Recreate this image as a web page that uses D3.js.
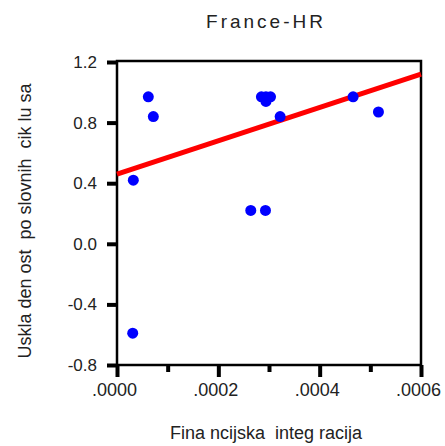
<!DOCTYPE html>
<html>
<head>
<meta charset="utf-8">
<script src="https://cdn.jsdelivr.net/npm/d3@7"></script>
<style>
  html, body { margin: 0; padding: 0; background: #fff; }
  svg { display: block; font-family: "Liberation Sans", Arial, sans-serif; }
  text { white-space: pre; }
</style>
</head>
<body>
<script>
// ---- data ----
const chartTitle = "France-HR";
const xTitle = "Fina ncijska  integ racija";
const yTitle = "Uskla den ost  po slovnih  cik lu sa";

const xValues = [0.0000618, 0.0000717, 0.0000322, 0.0000310, 0.000264, 0.000293,
                 0.000285, 0.000294, 0.000303, 0.000294, 0.000322, 0.000466, 0.000516];
const yValues = [0.97, 0.84, 0.42, -0.59, 0.22, 0.22,
                 0.97, 0.97, 0.97, 0.94, 0.84, 0.97, 0.87];

const fitX = [0, 0.0006];
const fitY = [0.46, 1.12];

const xMajorTicks = [0, 0.0002, 0.0004, 0.0006];
const xMinorTicks = [0.0001, 0.0003, 0.0005];
const yTicks = [-0.8, -0.4, 0.0, 0.4, 0.8, 1.2];

// ---- drawing ----
const W = 445, H = 446;
const svg = d3.select("body").append("svg").attr("width", W).attr("height", H);

const x = d3.scaleLinear().domain([0, 0.0006]).range([117, 421]);
const y = d3.scaleLinear().domain([-0.8, 1.2]).range([365, 62]);

// title
svg.append("text")
  .attr("x", 266).attr("y", 28)
  .attr("text-anchor", "middle")
  .attr("font-size", 19)
  .attr("letter-spacing", 3)
  .attr("fill", "#222")
  .text(chartTitle);

// frame
svg.append("rect")
  .attr("x", x(0)).attr("y", 61)
  .attr("width", x(0.0006) - x(0)).attr("height", 365 - 61)
  .attr("fill", "none").attr("stroke", "#000").attr("stroke-width", 2.5);

// y axis
const yAxis = d3.axisLeft(y).tickValues(yTicks).tickSize(10).tickPadding(10)
  .tickFormat(d => d.toFixed(1));
const gy = svg.append("g").attr("transform", `translate(${x(0)},0)`).call(yAxis);
gy.select(".domain").remove();
gy.selectAll(".tick line").attr("stroke", "#000").attr("stroke-width", 4);
gy.selectAll(".tick text").attr("font-size", 17).attr("fill", "#222")
  .attr("font-family", "Liberation Sans, Arial, sans-serif");

// x axis major
const xAxis = d3.axisBottom(x).tickValues(xMajorTicks).tickSize(12).tickPadding(6)
  .tickFormat(d => d.toFixed(4).replace(/^0/, ""));
const gx = svg.append("g").attr("transform", "translate(0,365)").call(xAxis);
gx.select(".domain").remove();
gx.selectAll(".tick line").attr("stroke", "#000").attr("stroke-width", 4);
gx.selectAll(".tick text").attr("font-size", 18).attr("fill", "#222").attr("dx", -3)
  .attr("font-family", "Liberation Sans, Arial, sans-serif");

// x axis minor
const xAxisMinor = d3.axisBottom(x).tickValues(xMinorTicks).tickSize(7).tickFormat("");
const gxm = svg.append("g").attr("transform", "translate(0,365)").call(xAxisMinor);
gxm.select(".domain").remove();
gxm.selectAll(".tick line").attr("stroke", "#000").attr("stroke-width", 4);

// axis titles
svg.append("text")
  .attr("x", 266).attr("y", 439)
  .attr("text-anchor", "middle")
  .attr("font-size", 18)
  .attr("fill", "#222")
  .text(xTitle);

svg.append("text")
  .attr("transform", "translate(31,221) rotate(-90)")
  .attr("text-anchor", "middle")
  .attr("font-size", 18)
  .attr("fill", "#222")
  .text(yTitle);

// fit line
const fitData = fitX.map((d, i) => [d, fitY[i]]);
svg.append("path")
  .datum(fitData)
  .attr("d", d3.line().x(d => x(d[0])).y(d => y(d[1])))
  .attr("stroke", "#ff0000").attr("stroke-width", 5).attr("fill", "none");

// points
const pts = xValues.map((d, i) => ({x: d, y: yValues[i]}));
svg.append("g").selectAll("circle").data(pts).join("circle")
  .attr("cx", d => x(d.x)).attr("cy", d => y(d.y))
  .attr("r", 5.5).attr("fill", "#0000ff");
</script>
</body>
</html>
